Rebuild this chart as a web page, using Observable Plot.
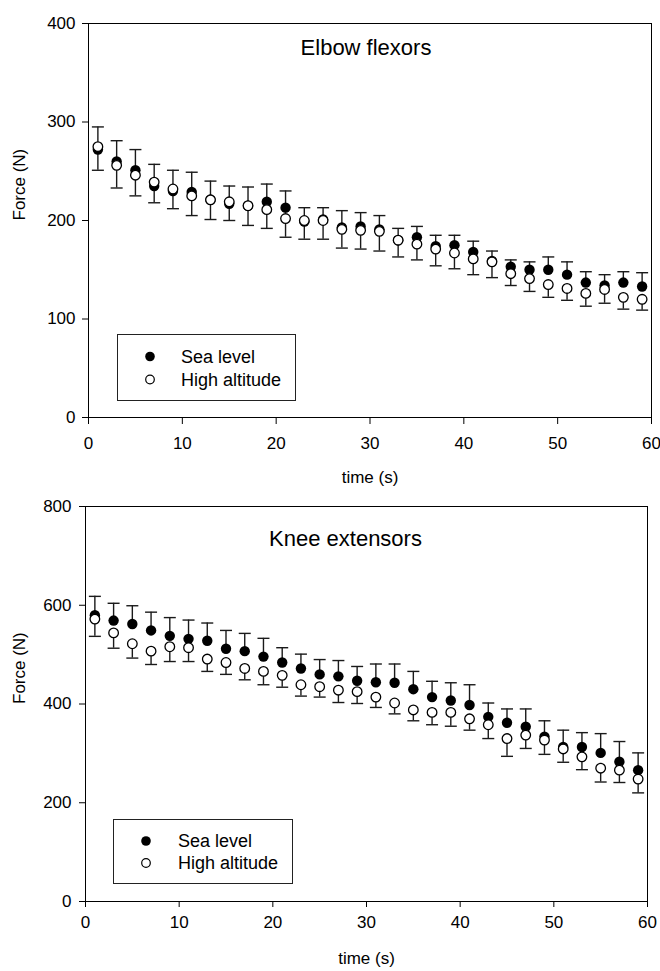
<!DOCTYPE html>
<html>
<head>
<meta charset="utf-8">
<script src="https://cdn.jsdelivr.net/npm/d3@7"></script>
<script src="https://cdn.jsdelivr.net/npm/@observablehq/plot@0.6"></script>
<style>
  html, body { margin: 0; padding: 0; background: white; }
  body { width: 660px; height: 971px; position: relative; overflow: hidden;
         font-family: "Liberation Sans", Arial, Helvetica, sans-serif; }
  .panel { position: absolute; left: 0; width: 660px; }
  .legend { position: absolute; }
</style>
</head>
<body>
<div id="top" class="panel" style="top:0px"></div>
<div id="bottom" class="panel" style="top:486px"></div>
<script>
// ---------- data ----------
const time = [1, 3, 5, 7, 9, 11, 13, 15, 17, 19, 21, 23, 25, 27, 29, 31, 33, 35, 37, 39, 41, 43, 45, 47, 49, 51, 53, 55, 57, 59];
const xTicks = [0, 10, 20, 30, 40, 50, 60];
const seriesNames = ["Sea level", "High altitude"];

// Elbow flexors (N)
const elbowTitle = "Elbow flexors";
const elbowTicks = [0, 100, 200, 300, 400];
const elbowSea = [272, 260, 251, 235, 230, 229, 221, 217, 215, 219, 213, 199, 201, 193, 194, 191, 180, 183, 174, 175, 168, 159, 153, 150, 150, 145, 137, 134, 137, 133];
const elbowSeaSD = [23, 21, 21, 22, 21, 20, 19, 18, 19, 18, 17, 14, 12, 17, 14, 14, 12, 11, 11, 10, 11, 10, 7, 8, 13, 13, 11, 11, 11, 14];
const elbowHigh = [275, 256, 246, 239, 232, 225, 221, 219, 215, 211, 202, 200, 200, 191, 190, 189, 180, 176, 171, 167, 161, 158, 146, 141, 135, 131, 126, 130, 122, 120];
const elbowHighSD = [24, 23, 21, 21, 20, 20, 20, 19, 20, 19, 19, 19, 19, 19, 19, 20, 17, 16, 17, 16, 16, 16, 12, 13, 13, 12, 13, 14, 12, 11];

// Knee extensors (N)
const kneeTitle = "Knee extensors";
const kneeTicks = [0, 200, 400, 600, 800];
const kneeSea = [580, 569, 562, 549, 538, 532, 528, 512, 507, 496, 484, 472, 460, 456, 447, 444, 443, 430, 414, 407, 398, 374, 362, 354, 334, 313, 313, 301, 283, 266];
const kneeSeaSD = [38, 35, 37, 37, 37, 38, 36, 37, 36, 37, 30, 29, 30, 32, 29, 37, 38, 36, 32, 36, 41, 28, 28, 36, 32, 34, 29, 39, 41, 35];
const kneeHigh = [572, 544, 522, 507, 516, 514, 491, 484, 472, 466, 458, 439, 435, 428, 425, 414, 402, 388, 383, 383, 370, 358, 330, 337, 327, 309, 293, 270, 266, 248];
const kneeHighSD = [35, 31, 29, 27, 30, 28, 25, 24, 23, 27, 24, 23, 21, 25, 24, 21, 22, 22, 25, 28, 23, 28, 36, 27, 29, 27, 26, 28, 25, 28];

const xLabel = "time (s)";
const yLabel = "Force (N)";

// ---------- drawing ----------
const FONT = '"Liberation Sans", Arial, Helvetica, sans-serif';
const capSymbol = {
  draw(context) { context.moveTo(-6, 0); context.lineTo(6, 0); }
};

function panel(o) {
  const seaRows = time.map((t, i) => ({t, v: o.sea[i], cap: o.sea[i] + o.seaSD[i]}));
  const highRows = time.map((t, i) => ({t, v: o.high[i], cap: o.high[i] - o.highSD[i]}));
  const barColor = "#1a1a1a";
  return Plot.plot({
    width: 660,
    height: o.height,
    marginTop: o.mt, marginBottom: o.mb, marginLeft: o.ml, marginRight: o.mr,
    style: {fontFamily: FONT, fontSize: "17px", color: "black", background: "white", overflow: "visible"},
    x: {domain: [0, 60], ticks: xTicks, tickSize: o.xTickSize, tickPadding: o.xTickPad, label: null},
    y: {domain: o.yDomain, ticks: o.yTicks, tickSize: 6, tickPadding: o.yTickPad, label: null},
    marks: [
      Plot.frame({stroke: "black", strokeWidth: 1}),
      Plot.ruleX(seaRows, {x: "t", y1: "v", y2: "cap", stroke: barColor, strokeWidth: 1.4}),
      Plot.dot(seaRows, {x: "t", y: "cap", symbol: capSymbol, fill: "none", stroke: barColor, strokeWidth: 1.4}),
      Plot.ruleX(highRows, {x: "t", y1: "v", y2: "cap", stroke: barColor, strokeWidth: 1.4}),
      Plot.dot(highRows, {x: "t", y: "cap", symbol: capSymbol, fill: "none", stroke: barColor, strokeWidth: 1.4}),
      Plot.dot(seaRows, {x: "t", y: "v", r: 5.2, fill: "black", stroke: "none"}),
      Plot.dot(highRows, {x: "t", y: "v", r: 4.8, fill: "white", stroke: "black", strokeWidth: 1.3}),
      Plot.text([o.title], {text: d => d, frameAnchor: "top", dx: o.titleDx, dy: o.titleDy, fontSize: 22, lineAnchor: "middle", fill: "black"}),
      Plot.text([xLabel], {text: d => d, frameAnchor: "bottom", dy: o.xLabelDy, fontSize: 17, lineAnchor: "middle", fill: "black"}),
      Plot.text([yLabel], {text: d => d, frameAnchor: "left", dx: o.yLabelDx, rotate: -90, fontSize: 17, lineAnchor: "middle", fill: "black"})
    ]
  });
}

function legend(o) {
  const ns = "http://www.w3.org/2000/svg";
  const svg = d3.create("svg")
    .attr("class", "legend")
    .attr("width", o.w + 2).attr("height", o.h + 2)
    .style("left", (o.left - 1) + "px").style("top", (o.top - 1) + "px")
    .style("font-family", FONT);
  svg.append("rect").attr("x", 1.5).attr("y", 1.5).attr("width", o.w - 1).attr("height", o.h - 1)
    .attr("fill", "white").attr("stroke", "#222").attr("stroke-width", 1);
  seriesNames.forEach((name, i) => {
    const cy = 1 + o.row0 + i * o.rowGap;
    svg.append("circle").attr("cx", 1 + o.symX).attr("cy", cy).attr("r", i === 0 ? 4.8 : 4.3)
      .attr("fill", i === 0 ? "black" : "white").attr("stroke", "black").attr("stroke-width", i === 0 ? 0 : 1.2);
    svg.append("text").attr("x", 1 + o.textX).attr("y", cy).attr("dy", "0.35em")
      .attr("font-size", 18).attr("fill", "black").text(name);
  });
  return svg.node();
}

document.getElementById("top").appendChild(panel({
  title: elbowTitle, sea: elbowSea, seaSD: elbowSeaSD, high: elbowHigh, highSD: elbowHighSD,
  yDomain: [0, 400], yTicks: elbowTicks,
  height: 486, mt: 23, mb: 69, ml: 88, mr: 9,
  xTickSize: 7, xTickPad: 12, yTickPad: 7,
  titleDx: -4, titleDy: 24, xLabelDy: 60, yLabelDx: -69
}));
document.getElementById("bottom").appendChild(panel({
  title: kneeTitle, sea: kneeSea, seaSD: kneeSeaSD, high: kneeHigh, highSD: kneeHighSD,
  yDomain: [0, 800], yTicks: kneeTicks,
  height: 485, mt: 20, mb: 70, ml: 85, mr: 13,
  xTickSize: 6, xTickPad: 8, yTickPad: 8,
  titleDx: -21, titleDy: 32, xLabelDy: 57, yLabelDx: -66
}));

document.body.appendChild(legend({left: 117, top: 334, w: 179, h: 67, symX: 33, textX: 64, row0: 22.5, rowGap: 23}));
document.body.appendChild(legend({left: 113, top: 819, w: 180, h: 65, symX: 33, textX: 65, row0: 22, rowGap: 22}));
</script>
</body>
</html>
